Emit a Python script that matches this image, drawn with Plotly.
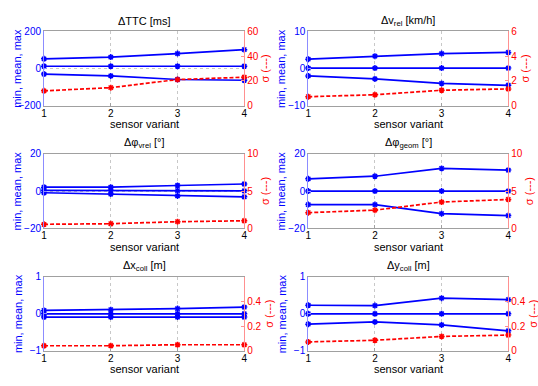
import plotly.graph_objects as go

variants = [1, 2, 3, 4]

titles = ["ΔTTC [ms]", "Δv<sub>rel</sub> [km/h]", "Δφ<sub>vrel</sub> [°]",
          "Δφ<sub>geom</sub> [°]", "Δx<sub>coll</sub> [m]", "Δy<sub>coll</sub> [m]"]

max_vals = [
    [52, 61, 80, 101],
    [2.5, 3.3, 4.0, 4.3],
    [2.1, 2.1, 3.0, 3.8],
    [6.6, 8.0, 12.2, 11.3],
    [0.09, 0.11, 0.14, 0.18],
    [0.23, 0.22, 0.42, 0.38],
]
mean_vals = [
    [12, 12, 12, 12],
    [0.1, 0.1, 0.1, 0.1],
    [0.4, 0.4, 0.2, 0.1],
    [0.0, 0.0, 0.0, 0.0],
    [0.0, 0.0, 0.0, 0.0],
    [0.0, 0.0, 0.0, 0.0],
]
min_vals = [
    [-30, -40, -59, -63],
    [-2.0, -2.8, -4.0, -4.5],
    [-0.9, -1.6, -2.6, -3.1],
    [-7.3, -7.3, -12.2, -13.2],
    [-0.09, -0.09, -0.09, -0.09],
    [-0.28, -0.22, -0.30, -0.46],
]
sigma_vals = [
    [12, 14.6, 21.1, 23],
    [0.73, 0.89, 1.25, 1.36],
    [0.52, 0.6, 0.87, 1.0],
    [2.09, 2.43, 3.52, 3.87],
    [0.042, 0.042, 0.05, 0.05],
    [0.073, 0.086, 0.117, 0.128],
]

left_ticks = [[-200, 0, 200], [-10, 0, 10], [-20, 0, 20], [-20, 0, 20], [-1, 0, 1], [-1, 0, 1]]
right_ticks = [[0, 20, 40, 60], [0, 2, 4, 6], [0, 5, 10], [0, 5, 10], [0, 0.2, 0.4], [0, 0.2, 0.4]]
right_ranges = [[0, 60], [0, 6], [0, 10], [0, 10], [0, 0.6], [0, 0.6]]

W, H = 538, 386
col_px = [(41.5, 244.0), (308.7, 511.0)]
row_px = [(26.0, 103.0), (152.7, 229.3), (279.3, 356.0)]

BLUE = "#0000ff"
RED = "#ff0000"
FONT = "Liberation Sans, Arial, sans-serif"

fig = go.Figure()
layout = dict(
    width=W, height=H, margin=dict(l=0, r=0, t=0, b=0),
    paper_bgcolor="white", plot_bgcolor="white", showlegend=False,
    font=dict(family=FONT, size=10, color="black"),
)
annotations = []

for i in range(6):
    r, c = divmod(i, 2)
    x0, x1 = col_px[c]
    yt, yb = row_px[r]
    xdom = [x0 / W, x1 / W]
    ydom = [1 - yb / H, 1 - yt / H]
    xa = f"x{i+1}" if i else "x"
    ya = f"y{2*i+1}" if i else "y"
    yb2 = f"y{2*i+2}"
    xkey = f"xaxis{i+1}" if i else "xaxis"
    ykey = f"yaxis{2*i+1}" if i else "yaxis"
    y2key = f"yaxis{2*i+2}"

    layout[xkey] = dict(
        domain=xdom, anchor=ya, range=[1, 4], tickvals=variants,
        showgrid=True, gridcolor="#c8c8c8", griddash="dot", gridwidth=1,
        showline=True, linecolor="#a0a0a0", linewidth=1, mirror=True,
        ticks="inside", ticklen=3, tickcolor="#a0a0a0", ticklabelstandoff=-2,
        tickfont=dict(size=10, color="black", family=FONT), zeroline=False,
    )
    lt = left_ticks[i]
    layout[ykey] = dict(
        domain=ydom, anchor=xa, range=[lt[0], lt[-1]], tickvals=lt,
        showgrid=True, gridcolor="#c8c8c8", griddash="dot", zeroline=False,
        showline=True, linecolor="#8c8cff", linewidth=1,
        ticks="inside", ticklen=3, tickcolor="#8c8cff",
        tickfont=dict(size=10, color=BLUE, family=FONT),
    )
    layout[y2key] = dict(
        overlaying=ya, anchor=xa, side="right", range=right_ranges[i],
        tickvals=right_ticks[i], showgrid=False, zeroline=False,
        showline=True, linecolor="#ff9090", linewidth=1,
        ticks="inside", ticklen=3, tickcolor="#ff9090",
        tickfont=dict(size=10, color=RED, family=FONT),
    )

    for vals in (max_vals[i], mean_vals[i], min_vals[i]):
        fig.add_trace(go.Scatter(
            x=variants, y=vals, xaxis=xa, yaxis=ya, mode="lines+markers",
            line=dict(color=BLUE, width=1.7),
            marker=dict(symbol="asterisk-open", size=5, color=BLUE,
                        line=dict(color=BLUE, width=1.5)),
            cliponaxis=False, hoverinfo="skip",
        ))
    fig.add_trace(go.Scatter(
        x=variants, y=sigma_vals[i], xaxis=xa, yaxis=yb2, mode="lines+markers",
        line=dict(color=RED, width=1.7, dash="4px,2px"),
        marker=dict(symbol="asterisk-open", size=5, color=RED,
                    line=dict(color=RED, width=1.5)),
        cliponaxis=False, hoverinfo="skip",
    ))

    cx = (x0 + x1) / 2 / W
    annotations.append(dict(
        text=titles[i], x=cx, y=1 - (yt - 11) / H, xref="paper", yref="paper",
        showarrow=False, font=dict(size=11, color="black", family=FONT),
        xanchor="center", yanchor="middle",
    ))
    annotations.append(dict(
        text="sensor variant", x=cx, y=1 - (yb + 19) / H, xref="paper", yref="paper",
        showarrow=False, font=dict(size=11, color="black", family=FONT),
        xanchor="center", yanchor="middle",
    ))
    cy = 1 - (yt + yb) / 2 / H
    annotations.append(dict(
        text="min, mean, max", x=(x0 - 27) / W, y=cy, xref="paper", yref="paper",
        showarrow=False, textangle=-90, font=dict(size=11, color=BLUE, family=FONT),
        xanchor="center", yanchor="middle",
    ))
    nchar = max(len(f"{v:g}") for v in right_ticks[i])
    off = {1: 17, 2: 21, 3: 25}.get(nchar, 25)
    annotations.append(dict(
        text="σ (---)", x=(x1 + off) / W, y=cy, xref="paper", yref="paper",
        showarrow=False, textangle=-90, font=dict(size=11, color=RED, family=FONT),
        xanchor="center", yanchor="middle",
    ))

layout["annotations"] = annotations
fig.update_layout(**layout)
fig.write_html("out.html")
